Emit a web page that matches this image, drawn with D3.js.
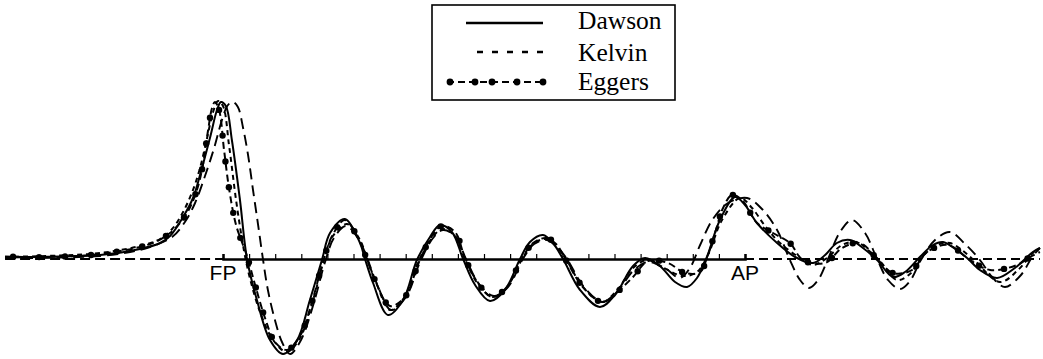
<!DOCTYPE html>
<html>
<head>
<meta charset="utf-8">
<script src="https://cdn.jsdelivr.net/npm/d3@7"></script>
<style>
  html, body { margin: 0; padding: 0; background: #fff; }
  svg { display: block; }
</style>
</head>
<body>
<svg id="chart" width="1043" height="359"></svg>
<script>
// Wave profile along the hull: station number (FP = 0, AP = 20) vs. wave height.
const stationTicks = d3.range(0, 21);
const endStations = [0, 20];
const endLabels = ["FP", "AP"];
const legendNames = ["Dawson", "Kelvin", "Eggers"];

const dawsonX = [-8.35,-6.25,-4.71,-3.18,-2.41,-2.03,-1.53,-1.15,-0.88,-0.50,-0.23,-0.08,0.11,0.34,0.65,0.92,1.30,1.80,2.30,2.84,3.33,3.79,4.10,4.67,5.25,5.44,5.75,6.32,6.90,7.43,7.93,8.31,8.77,9.20,9.66,10.23,10.80,11.38,11.76,12.26,12.64,13.03,13.68,14.44,15.02,15.71,16.17,16.74,17.32,17.78,18.16,18.54,19.04,19.62,20.00,20.46,21.23,21.92,22.61,23.07,23.52,24.02,24.52,25.06,25.67,26.13,26.70,27.20,27.59,28.05,28.51,29.00,29.66,30.34,31.03,31.30];
const dawsonY = [0.03,0.05,0.08,0.20,0.32,0.46,0.84,1.22,1.68,2.42,2.98,3.14,3.06,2.38,1.18,0,-0.82,-1.62,-1.90,-1.62,-0.82,-0.02,0.52,0.80,0.32,0,-0.48,-1.12,-0.82,-0.02,0.44,0.68,0.54,0,-0.52,-0.84,-0.62,0,0.34,0.48,0.32,0,-0.62,-0.96,-0.72,-0.14,0.02,-0.14,-0.46,-0.56,-0.38,0.04,0.78,1.24,1.08,0.72,0.32,0.04,-0.08,0.08,0.32,0.38,0.22,-0.02,-0.36,-0.26,0.04,0.28,0.34,0.20,0.02,-0.22,-0.38,-0.18,0.14,0.22];

const kelvinX = [-8.35,-6.25,-4.71,-3.18,-2.41,-1.95,-1.53,-1.15,-0.88,-0.61,-0.38,-0.19,0,0.23,0.50,0.80,1.03,1.42,1.92,2.45,2.95,3.45,3.87,4.21,4.75,5.25,5.52,5.86,6.40,6.93,7.51,8.01,8.39,8.85,9.27,9.77,10.34,10.88,11.46,11.88,12.38,12.76,13.14,13.79,14.52,15.10,15.71,16.25,16.82,17.62,18.16,18.58,19.12,19.81,20.27,20.77,21.34,22.11,22.61,23.14,23.72,24.29,24.71,25.17,25.82,26.32,26.78,27.36,27.85,28.31,28.81,29.77,30.46,31.03,31.30];
const kelvinY = [0.04,0.07,0.12,0.26,0.40,0.60,0.94,1.38,1.82,2.42,2.94,3.16,3.06,2.28,1.18,0.18,-0.38,-1.06,-1.62,-1.86,-1.58,-0.82,-0.02,0.46,0.70,0.38,0,-0.46,-1.02,-0.78,-0.02,0.42,0.60,0.48,0,-0.50,-0.76,-0.56,0,0.30,0.40,0.26,0,-0.56,-0.86,-0.62,-0.18,-0.02,-0.16,-0.34,-0.26,0.08,0.78,1.22,1.02,0.66,0.32,0.02,-0.12,0.02,0.28,0.34,0.18,-0.04,-0.42,-0.30,0.04,0.28,0.32,0.18,-0.04,-0.46,-0.22,0.12,0.22];

const eggersX = [-8.35,-6.74,-4.71,-2.80,-2.03,-1.38,-1.00,-0.77,-0.57,-0.42,-0.31,-0.15,0.04,0.23,0.50,0.92,1.23,1.61,1.99,2.45,2.95,3.41,3.83,4.18,4.67,5.17,5.48,5.82,6.40,6.97,7.51,8.01,8.39,8.89,9.27,9.77,10.31,10.88,11.42,11.88,12.38,12.76,13.14,13.79,14.52,15.10,15.71,16.28,17.05,17.70,18.28,18.54,18.85,19.16,19.50,19.89,20.46,21.07,21.72,22.22,23.07,23.72,24.41,25.10,25.67,26.40,26.97,27.78,28.62,29.39,30.42,30.92,31.30];
const eggersY = [0.05,0.04,0.10,0.30,0.52,0.92,1.38,1.88,2.58,3.02,3.14,2.98,2.18,1.42,0.68,0.06,-0.52,-1.18,-1.66,-1.82,-1.54,-0.86,-0.06,0.46,0.78,0.42,0.04,-0.42,-0.94,-0.76,-0.06,0.46,0.66,0.54,0.02,-0.48,-0.76,-0.56,-0.02,0.32,0.42,0.30,-0.02,-0.56,-0.86,-0.66,-0.36,-0.04,-0.08,-0.28,-0.26,0.02,0.52,1.02,1.28,1.18,0.72,0.52,0.32,-0.02,-0.08,0.22,0.32,-0.02,-0.28,-0.22,0.14,0.28,-0.02,-0.22,-0.12,0.04,0.14];

const longDashX = [-8.35,-6.25,-4.71,-3.56,-2.80,-1.95,-1.46,-1.07,-0.69,-0.34,-0.04,0.19,0.38,0.57,0.77,0.96,1.15,1.34,1.53,1.72,1.99,2.26,2.57,2.99,3.49,3.91,4.25,4.71,5.17,5.52,5.90,6.44,7.01,7.55,8.05,8.43,8.89,9.31,9.81,10.38,10.92,11.49,11.92,12.41,12.80,13.18,13.83,14.56,15.13,15.71,16.28,16.93,17.51,17.89,18.28,18.77,19.35,20.08,20.65,21.23,21.72,22.11,22.45,22.80,23.18,23.64,24.10,24.60,25.06,25.48,25.94,26.32,26.74,27.28,27.85,28.43,29.00,29.50,29.96,30.54,31.03,31.30];
const longDashY = [0.01,0.03,0.06,0.14,0.24,0.44,0.74,1.12,1.66,2.22,2.78,3.08,3.14,3.04,2.62,2.08,1.38,0.70,0,-0.62,-1.22,-1.66,-1.90,-1.62,-0.86,-0.06,0.42,0.66,0.42,0.02,-0.50,-1.02,-0.76,-0.06,0.42,0.58,0.46,0,-0.50,-0.74,-0.56,0,0.30,0.38,0.24,0,-0.56,-0.86,-0.64,-0.24,-0.06,-0.18,-0.38,-0.18,0.28,0.80,1.12,1.22,1.00,0.58,-0.02,-0.42,-0.58,-0.42,0,0.54,0.78,0.52,0,-0.42,-0.60,-0.44,-0.02,0.38,0.54,0.30,-0.02,-0.38,-0.56,-0.34,0.06,0.22];

const svg = d3.select("#chart");
const x = d3.scaleLinear().domain([0, 20]).range([223, 745]);
const y = d3.scaleLinear().domain([-2, 3.2]).range([359, 99]);
const xMin = -8.35, xMax = 31.3;

const line = d3.line()
  .x(d => x(d[0]))
  .y(d => y(d[1]))
  .curve(d3.curveCatmullRom.alpha(0.5));

const pairs = (xs, ys) => xs.map((v, i) => [v, ys[i]]);

// Baseline: solid between the perpendiculars, dashed outside them
const axisG = svg.append("g");
axisG.append("line")
  .attr("x1", x(xMin)).attr("x2", x(0))
  .attr("y1", y(0)).attr("y2", y(0))
  .attr("stroke", "#000").attr("stroke-width", 2)
  .attr("stroke-dasharray", "10,5");
axisG.append("line")
  .attr("x1", x(20)).attr("x2", x(xMax))
  .attr("y1", y(0)).attr("y2", y(0))
  .attr("stroke", "#000").attr("stroke-width", 2)
  .attr("stroke-dasharray", "9,5");

const stationAxis = d3.axisTop(x)
  .tickValues(stationTicks)
  .tickSize(5)
  .tickFormat("");
const sa = axisG.append("g")
  .attr("transform", `translate(0,${y(0)})`)
  .call(stationAxis);
sa.select(".domain").attr("stroke", "#000").attr("stroke-width", 2.5);
sa.selectAll(".tick line").attr("stroke", "#000").attr("stroke-width", 1.2);

axisG.selectAll("text.end")
  .data(endStations)
  .join("text")
  .attr("class", "end")
  .attr("x", d => x(d))
  .attr("y", y(0) + 21)
  .attr("text-anchor", "middle")
  .attr("font-family", "Liberation Sans, Arial, sans-serif")
  .attr("font-size", 21)
  .attr("fill", "#000")
  .text((d, i) => endLabels[i]);

// Curves
const curves = svg.append("g").attr("fill", "none").attr("stroke", "#000");
curves.append("path")
  .attr("d", line(pairs(longDashX, longDashY)))
  .attr("stroke-width", 1.9)
  .attr("stroke-dasharray", "11,6");
curves.append("path")
  .attr("d", line(pairs(kelvinX, kelvinY)))
  .attr("stroke-width", 2)
  .attr("stroke-dasharray", "5,4");
curves.append("path")
  .attr("d", line(pairs(dawsonX, dawsonY)))
  .attr("stroke-width", 2);
const eggersPath = curves.append("path")
  .attr("d", line(pairs(eggersX, eggersY)))
  .attr("stroke-width", 2)
  .attr("stroke-dasharray", "7,4");

// Eggers markers spaced evenly along the curve
const ep = eggersPath.node();
const total = ep.getTotalLength();
const markerPts = d3.range(8, total, 26).map(l => ep.getPointAtLength(l));
svg.append("g").selectAll("circle")
  .data(markerPts)
  .join("circle")
  .attr("cx", d => d.x).attr("cy", d => d.y)
  .attr("r", 3.2).attr("fill", "#000");

// Legend
const lg = svg.append("g");
lg.append("rect")
  .attr("x", 432).attr("y", 5).attr("width", 243).attr("height", 95)
  .attr("fill", "#fff").attr("stroke", "#000").attr("stroke-width", 1.6);
const rowY = [23, 52, 82];
const textY = [29, 61, 90];
lg.append("line").attr("x1", 466).attr("x2", 543).attr("y1", rowY[0]).attr("y2", rowY[0])
  .attr("stroke", "#000").attr("stroke-width", 2.4);
lg.append("line").attr("x1", 477).attr("x2", 543).attr("y1", rowY[1]).attr("y2", rowY[1])
  .attr("stroke", "#000").attr("stroke-width", 2.4).attr("stroke-dasharray", "6,9");
lg.append("line").attr("x1", 447).attr("x2", 545).attr("y1", rowY[2]).attr("y2", rowY[2])
  .attr("stroke", "#000").attr("stroke-width", 2.2).attr("stroke-dasharray", "7,4");
lg.selectAll("circle")
  .data([450, 475, 492, 517, 543])
  .join("circle")
  .attr("cx", d => d).attr("cy", rowY[2]).attr("r", 3.4).attr("fill", "#000");
lg.selectAll("text")
  .data(legendNames)
  .join("text")
  .attr("x", 578)
  .attr("y", (d, i) => textY[i])
  .attr("font-family", "Liberation Serif, Times New Roman, serif")
  .attr("font-size", 25.5)
  .attr("fill", "#000")
  .text(d => d);
</script>
</body>
</html>
